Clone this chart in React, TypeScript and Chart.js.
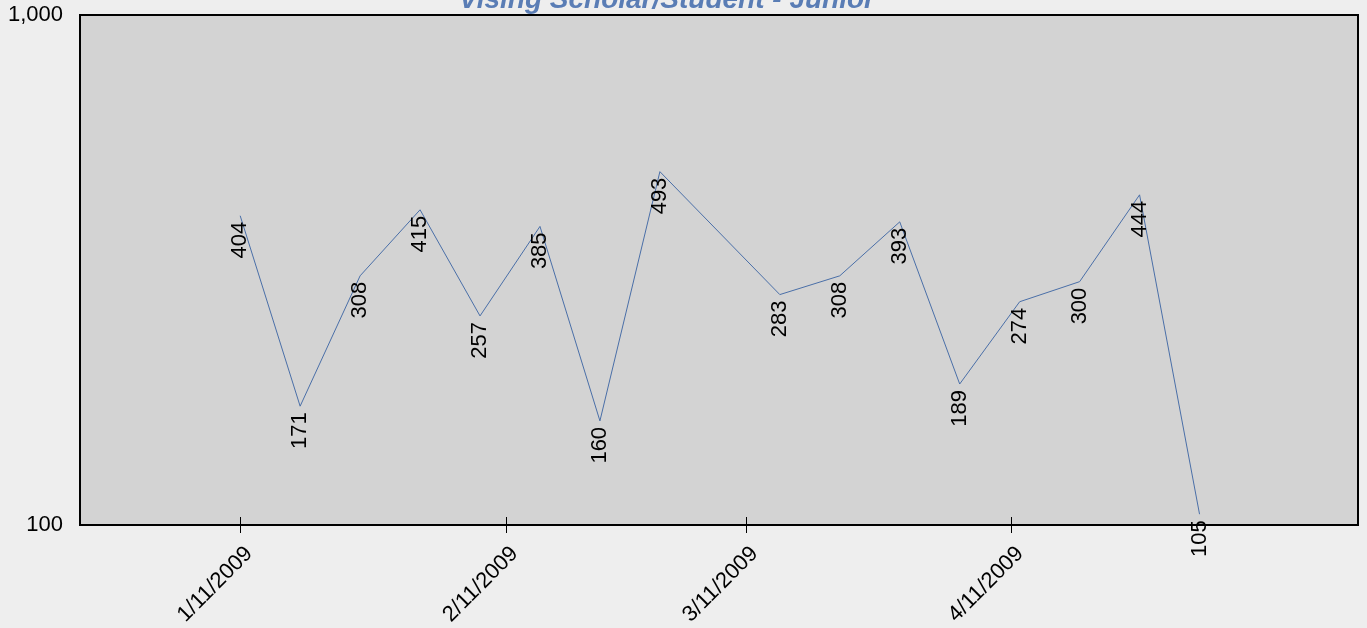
import React, { useEffect, useRef } from 'react';
import { Chart, registerables } from 'chart.js';

Chart.register(...registerables);

const TITLE = 'Vising Scholar/Student - Junior';
const dates = [
  '1/11/2009', '1/18/2009', '1/25/2009', '2/1/2009', '2/8/2009', '2/15/2009', '2/22/2009', '3/1/2009',
  '3/15/2009', '3/22/2009', '3/29/2009', '4/5/2009', '4/12/2009', '4/19/2009', '4/26/2009', '5/3/2009',
];
const values = [404, 171, 308, 415, 257, 385, 160, 493, 283, 308, 393, 189, 274, 300, 444, 105];
const xTickDates = ['1/11/2009', '2/11/2009', '3/11/2009', '4/11/2009'];
const yTickValues = [100, 1000];
const yTickLabels = ['100', '1,000'];

const FONT = "'Liberation Sans', Arial, sans-serif";

function toDay(s: string): number {
  const [m, d, y] = s.split('/').map(Number);
  return Date.UTC(y, m - 1, d) / 86400000;
}

const X_MIN = toDay('1/11/2009') - 18.7;
const X_MAX = toDay('4/11/2009') + 40.5;

const decorPlugin = {
  id: 'decor',
  beforeDraw(chart: any) {
    const { ctx, chartArea: a } = chart;
    ctx.save();
    ctx.fillStyle = '#eeeeee';
    ctx.fillRect(0, 0, chart.width, chart.height);
    ctx.fillStyle = '#d3d3d3';
    ctx.fillRect(a.left, a.top, a.right - a.left, a.bottom - a.top);
    ctx.restore();
  },
  afterDatasetsDraw(chart: any) {
    const { ctx, chartArea: a } = chart;
    const xs = chart.scales.x;
    const ys = chart.scales.y;
    ctx.save();
    ctx.strokeStyle = '#000';
    ctx.lineWidth = 2;
    ctx.strokeRect(a.left, a.top, a.right - a.left, a.bottom - a.top);
    ctx.lineWidth = 1;
    xs.ticks.forEach((t: any) => {
      const px = Math.round(xs.getPixelForValue(t.value)) + 0.5;
      ctx.beginPath();
      ctx.moveTo(px, a.bottom - 8);
      ctx.lineTo(px, a.bottom + 8);
      ctx.stroke();
    });
    ctx.fillStyle = '#000';
    ctx.font = `22px ${FONT}`;
    ctx.textAlign = 'right';
    ctx.textBaseline = 'middle';
    dates.forEach((d, i) => {
      const px = xs.getPixelForValue(toDay(d));
      const py = ys.getPixelForValue(values[i]);
      ctx.save();
      ctx.translate(px, py + 6);
      ctx.rotate(-Math.PI / 2);
      ctx.fillText(String(values[i]), 0, 0);
      ctx.restore();
    });
    ctx.fillStyle = '#5a7db5';
    ctx.font = `bold italic 28px ${FONT}`;
    ctx.textAlign = 'center';
    ctx.textBaseline = 'alphabetic';
    ctx.fillText(TITLE, 667, 8);
    ctx.restore();
  },
};

export default function App() {
  const ref = useRef<HTMLCanvasElement>(null);
  useEffect(() => {
    if (!ref.current) return;
    const chart = new Chart(ref.current, {
      type: 'line',
      data: {
        datasets: [
          {
            data: dates.map((d, i) => ({ x: toDay(d), y: values[i] })),
            borderColor: '#4a6fa8',
            borderWidth: 1,
            pointRadius: 0,
            tension: 0,
            fill: false,
          },
        ],
      },
      options: {
        animation: false,
        responsive: false,
        maintainAspectRatio: false,
        layout: { padding: { left: 0, top: 15, right: 9, bottom: 0 } },
        plugins: {
          legend: { display: false },
          title: { display: false },
          tooltip: { enabled: false },
        },
        scales: {
          x: {
            type: 'linear',
            min: X_MIN,
            max: X_MAX,
            grid: { display: false },
            border: { display: false },
            afterBuildTicks: (s: any) => {
              s.ticks = xTickDates.map((d) => ({ value: toDay(d) }));
            },
            afterFit: (s: any) => {
              s.height = 103;
              s.paddingLeft = 0;
              s.paddingRight = 0;
            },
            ticks: {
              autoSkip: false,
              maxRotation: 45,
              minRotation: 45,
              color: '#000',
              padding: 8,
              labelOffset: 9,
              font: { family: FONT, size: 22 },
              callback: (v: any) => {
                const idx = xTickDates.findIndex((d) => toDay(d) === v);
                return idx >= 0 ? xTickDates[idx] : '';
              },
            },
          },
          y: {
            type: 'logarithmic',
            min: 100,
            max: 1000,
            grid: { display: false },
            border: { display: false },
            afterBuildTicks: (s: any) => {
              s.ticks = yTickValues.map((v) => ({ value: v }));
            },
            afterFit: (s: any) => {
              s.width = 80;
              s.paddingTop = 0;
              s.paddingBottom = 0;
            },
            ticks: {
              color: '#000',
              padding: 9,
              font: { family: FONT, size: 22 },
              callback: (v: any) => {
                const idx = yTickValues.indexOf(v);
                return idx >= 0 ? yTickLabels[idx] : '';
              },
            },
          },
        },
      },
      plugins: [decorPlugin],
    } as any);
    return () => chart.destroy();
  }, []);
  return (
    <div style={{ position: 'fixed', left: 0, top: 0 }}>
      <canvas ref={ref} width={1367} height={628} style={{ display: 'block', width: 1367, height: 628 }} />
    </div>
  );
}
